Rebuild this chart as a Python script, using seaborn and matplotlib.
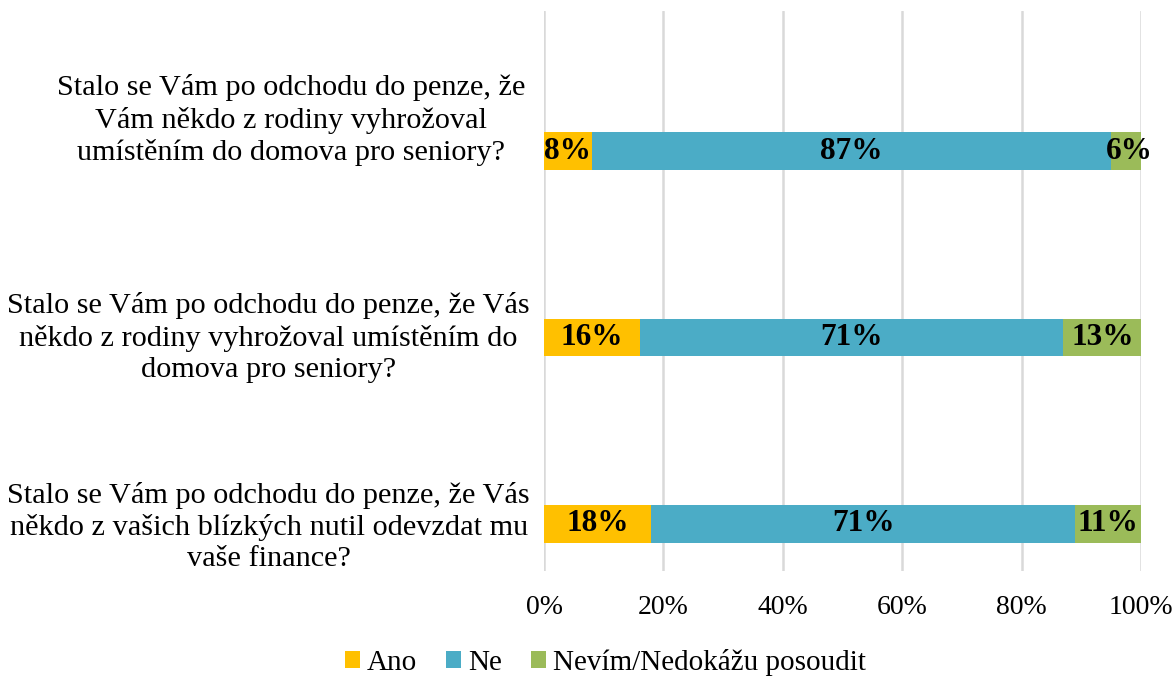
import matplotlib
matplotlib.use("Agg")
import matplotlib.pyplot as plt
from matplotlib.patches import Patch
import seaborn as sns
import pandas as pd

# Data (percent of respondents)
questions = [
    "Stalo se Vám po odchodu do penze, že\nVám někdo z rodiny vyhrožoval\numístěním do domova pro seniory?",
    "Stalo se Vám po odchodu do penze, že Vás\nněkdo z rodiny vyhrožoval umístěním do\ndomova pro seniory?",
    "Stalo se Vám po odchodu do penze, že Vás\nněkdo z vašich blízkých nutil odevzdat mu\nvaše finance?",
]
answers = ["Ano", "Ne", "Nevím/Nedokážu posoudit"]
ano = [8, 16, 18]
ne = [87, 71, 71]
nevim = [6, 13, 11]
colors = ["#FFC000", "#4BACC6", "#9BBB59"]
xticks = [0, 20, 40, 60, 80, 100]

sns.set_theme(style="white")
plt.rcParams["font.family"] = ["Liberation Serif", "DejaVu Serif"]
plt.rcParams["text.color"] = "black"
plt.rcParams["xtick.color"] = "black"

df = pd.DataFrame({"q": questions, "Ano": ano, "Ne": ne, "Nevim": nevim})
df["c1"] = df["Ano"]
df["c2"] = df["Ano"] + df["Ne"]
df["c3"] = df["c2"] + df["Nevim"]

fig = plt.figure(figsize=(11.76, 6.77), dpi=100)
ax = fig.add_axes([0.4626, 0.1566, 0.5077, 0.8272])

# stacked bars drawn as overlapping cumulative totals
for col, color in zip(["c3", "c2", "c1"], colors[::-1]):
    sns.barplot(data=df, x=col, y="q", color=color, width=0.2,
                saturation=1, ax=ax, zorder=3, linewidth=0)

ax.set_xlim(0, 100)
ax.set_ylim(2.252, -0.751)
ax.set_xticks(xticks)
ax.set_xticklabels([f"{t}%" for t in xticks], fontsize=20)
ax.tick_params(axis="x", length=0, pad=17)
ax.set_xlabel("")
ax.set_ylabel("")
ax.grid(axis="x", color="#D9D9D9", linewidth=1.8, zorder=0)
for s in ax.spines.values():
    s.set_visible(False)

# category labels (top one sits a bit higher, as in the original)
ax.set_yticks([])
offsets = [-0.166, 0, 0.015]
xpos = [-0.031, -0.0235, -0.0235]
for i, q in enumerate(questions):
    ax.text(xpos[i], i + offsets[i], q, transform=ax.get_yaxis_transform(),
            ha="right", va="center", multialignment="center", fontsize=21.8,
            linespacing=1.25)

# value labels centered on each segment
for i in range(len(questions)):
    starts = [0, ano[i], ano[i] + ne[i]]
    for start, val in zip(starts, [ano[i], ne[i], nevim[i]]):
        ax.text(start + val / 2, i, f"{val}%", ha="center", va="center",
                fontsize=22.5, fontweight="bold", color="black", zorder=5)

handles = [Patch(facecolor=c, edgecolor="none", label=a) for c, a in zip(colors, answers)]
fig.legend(handles=handles, loc="center", bbox_to_anchor=(0.515, 0.022), ncol=3,
           frameon=False, fontsize=21, handlelength=0.5, handleheight=0.5,
           handletextpad=0.25, columnspacing=1.0)

fig.savefig("out.png", dpi=100)
